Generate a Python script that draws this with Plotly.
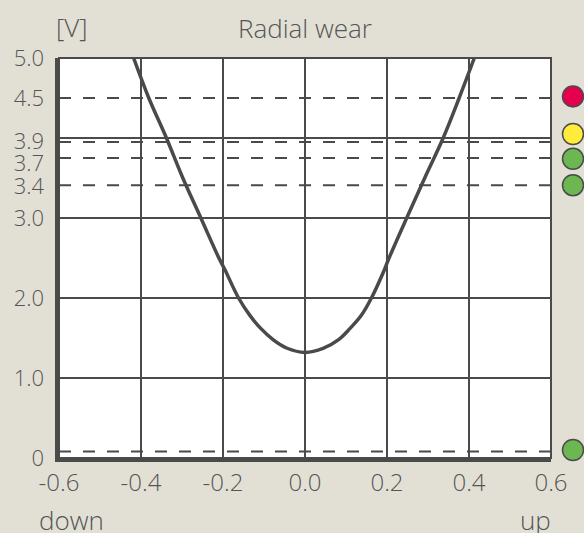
import plotly.graph_objects as go

# ---- data ----
curve_x = [-0.418, -0.381, -0.338, -0.298, -0.254, -0.210, -0.195, -0.162, -0.134, -0.108, -0.078, -0.045, 0.0,
           0.044, 0.082, 0.110, 0.137, 0.162, 0.190, 0.205, 0.248, 0.292, 0.337, 0.376, 0.413]
curve_v = [5.0, 4.5, 4.0, 3.5, 3.0, 2.5, 2.35, 2.0, 1.78, 1.62, 1.48, 1.375, 1.32,
           1.37, 1.48, 1.62, 1.78, 2.0, 2.31, 2.5, 3.0, 3.5, 4.0, 4.5, 5.0]

thresholds = [4.5, 3.95, 3.75, 3.41, 0.08]
dot_levels = [4.52, 4.05, 3.74, 3.41, 0.1]
dot_colors = ["#e4004f", "#ffec3b", "#6cb752", "#6cb752", "#6cb752"]

y_tick_vals = [0, 1, 2, 3, 3.40, 3.69, 3.96, 4.5, 5]
y_tick_text = ["0", "1.0", "2.0", "3.0", "3.4", "3.7", "3.9", "4.5", "5.0"]
y_grid_vals = [1, 2, 3, 4]
x_tick_vals = [-0.6, -0.4, -0.2, 0.0, 0.2, 0.4, 0.6]
x_tick_text = ["-0.6", "-0.4", "-0.2", "0.0", "0.2", "0.4", "0.6"]

BG = "#e2e0d5"
INK = "#4a4a4a"
TXT = "#555555"
FAM = "Open Sans"
YFONT = dict(family=FAM, size=22, color=TXT, weight=300)
XFONT = dict(family=FAM, size=24, color=TXT, weight=300)
AFONT = dict(family=FAM, size=26, color=TXT, weight=300)

W, H = 584, 533
L, T, B = 59, 58, 75
PLOT_W = 492                      # width of the chart area
split = PLOT_W / (W - L)          # main x-axis domain end; the rest holds the status dots

fig = go.Figure()

# threshold dashed lines
for t in thresholds:
    fig.add_trace(go.Scatter(x=[-0.6, 0.6], y=[t, t], mode="lines",
                             line=dict(color=INK, width=2, dash="12px,12px"),
                             hoverinfo="skip", showlegend=False))

# curve
fig.add_trace(go.Scatter(x=curve_x, y=curve_v, mode="lines",
                         line=dict(color=INK, width=3.5, shape="spline", smoothing=1.0),
                         showlegend=False))

# status dots in their own narrow column axis
fig.add_trace(go.Scatter(x=[0.667] * len(dot_levels), y=dot_levels, mode="markers",
                         marker=dict(size=21, color=dot_colors, line=dict(color=INK, width=1.5)),
                         cliponaxis=False, showlegend=False, xaxis="x2", yaxis="y",
                         hoverinfo="skip"))

# invisible trace to anchor the label axis
fig.add_trace(go.Scatter(x=[0], y=[0], mode="markers", marker=dict(opacity=0),
                         hoverinfo="skip", showlegend=False, yaxis="y2"))

fig.update_layout(
    width=W, height=H,
    paper_bgcolor=BG, plot_bgcolor=BG,
    margin=dict(l=L, r=0, t=T, b=B, autoexpand=False),
    font=YFONT,
    xaxis=dict(domain=[0, split], range=[-0.6, 0.6], tickvals=x_tick_vals, ticktext=x_tick_text,
               showgrid=True, gridcolor=INK, gridwidth=2, zeroline=False,
               showline=True, linecolor=INK, linewidth=4, ticks="",
               ticklabelstandoff=0, tickfont=XFONT, anchor="y"),
    xaxis2=dict(domain=[split, 1], range=[0, 1], visible=False, anchor="y"),
    yaxis=dict(range=[0, 5], tickvals=y_grid_vals, showticklabels=False, anchor="x",
               showgrid=False, zeroline=False,
               showline=True, linecolor=INK, linewidth=4, ticks=""),
    yaxis2=dict(range=[0, 5], overlaying="y", side="left", anchor="x", tickvals=y_tick_vals,
                ticktext=y_tick_text, showgrid=False, zeroline=False, showline=False,
                ticks="", ticklabelstandoff=14, tickfont=YFONT),
    shapes=[
        dict(type="rect", xref="x domain", yref="y domain", x0=0, x1=1, y0=0, y1=1,
             fillcolor="white", line=dict(width=0), layer="below"),
        dict(type="rect", xref="x domain", yref="y domain", x0=0, x1=1, y0=0, y1=1,
             line=dict(color=INK, width=2), layer="above"),
    ] + [
        dict(type="line", xref="x domain", yref="y", x0=0, x1=1, y0=g, y1=g,
             line=dict(color=INK, width=2), layer="below")
        for g in y_grid_vals
    ],
    annotations=[
        dict(text="Radial wear", x=0.0, xref="x", y=1.075, yref="y domain",
             showarrow=False, font=AFONT, xanchor="center", yanchor="middle"),
        dict(text="[V]", x=-0.568, xref="x", y=1.077, yref="y domain",
             showarrow=False, font=AFONT, xanchor="center", yanchor="middle"),
        dict(text="down", x=-0.0447, xref="x domain", y=-0.155, yref="y domain",
             showarrow=False, font=AFONT, xanchor="left", yanchor="middle"),
        dict(text="up", x=1.004, xref="x domain", y=-0.155, yref="y domain",
             showarrow=False, font=AFONT, xanchor="right", yanchor="middle"),
    ],
)

fig.write_html("out.html", config=dict(displayModeBar=False),
               post_script="document.body.style.margin='0';document.body.style.overflow='hidden';")
